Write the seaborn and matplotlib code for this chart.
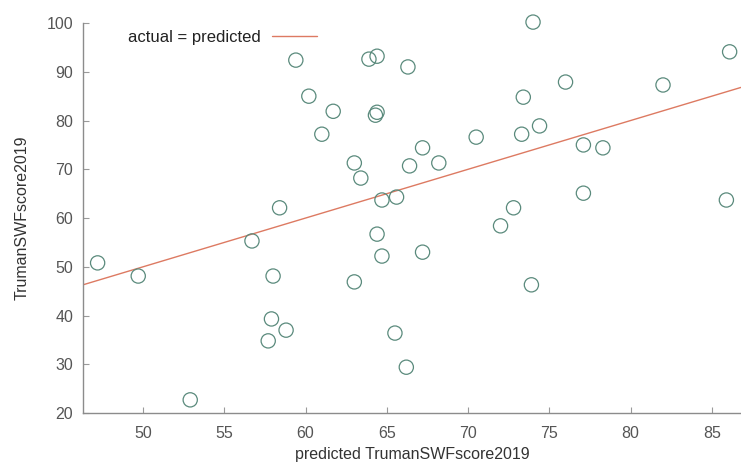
import pandas as pd
import seaborn as sns
import matplotlib.pyplot as plt

# --- Data ---
predicted = [47.2, 49.7, 52.9, 56.7, 58.4, 58.0, 57.9, 57.7, 58.8, 59.4,
             60.2, 61.7, 61.0, 63.0, 63.0, 63.4, 63.9, 64.4, 64.3, 64.4,
             64.4, 64.7, 64.7, 65.6, 66.3, 66.4, 65.5, 66.2, 67.2, 68.2,
             67.2, 70.5, 72.0, 72.8, 73.3, 73.4, 74.0, 74.4, 73.9, 76.0,
             77.1, 77.1, 78.3, 82.0, 85.9, 86.1]
actual = [50.8, 48.1, 22.7, 55.3, 62.1, 48.1, 39.3, 34.8, 37.0, 92.4,
          85.0, 81.9, 77.2, 46.9, 71.3, 68.2, 92.6, 93.2, 81.1, 81.7,
          56.7, 52.2, 63.7, 64.3, 91.0, 70.7, 36.4, 29.4, 74.4, 71.3,
          53.0, 76.6, 58.4, 62.1, 77.2, 84.8, 100.2, 78.9, 46.3, 87.9,
          75.0, 65.1, 74.4, 87.3, 63.7, 94.1]
xticks = [50, 55, 60, 65, 70, 75, 80, 85]
yticks = [20, 30, 40, 50, 60, 70, 80, 90, 100]

df = pd.DataFrame({'predicted': predicted, 'actual': actual})

# --- Style ---
sns.set_style('white')
plt.rcParams['font.family'] = ['Liberation Sans', 'DejaVu Sans']

fig = plt.figure(figsize=(7.41, 4.67), dpi=100)
ax = fig.add_axes([0.112, 0.1156, 0.888, 0.835])

line_col = '#dd7a62'
pt_col = '#5a8a7c'

ax.axline((50, 50), slope=1, color=line_col, lw=1.0, label='actual = predicted')
sns.scatterplot(data=df, x='predicted', y='actual', ax=ax,
                marker='o', s=105, facecolor='none', edgecolor=pt_col,
                linewidth=0.9, clip_on=False, zorder=3)

ax.set_xlim(46.3, 86.8)
ax.set_ylim(20, 100)
ax.set_xticks(xticks)
ax.set_yticks(yticks)

for side in ['top', 'right']:
    ax.spines[side].set_visible(False)
for side in ['left', 'bottom']:
    ax.spines[side].set_color('#8c8c8c')
    ax.spines[side].set_linewidth(1.0)

ax.tick_params(bottom=True, left=True, direction='in', length=4, width=0.8,
               color='#9a9a9a', labelsize=11.5, labelcolor='#555555')
ax.tick_params(axis='x', pad=9)
ax.tick_params(axis='y', pad=7)

ax.set_xlabel('predicted TrumanSWFscore2019', fontsize=11.5, color='#333333', labelpad=5)
ax.set_ylabel('TrumanSWFscore2019', fontsize=11.5, color='#333333', labelpad=12)

ax.legend(loc='upper left', bbox_to_anchor=(0.045, 1.02), frameon=False,
          markerfirst=False, handlelength=2.7, handletextpad=0.7, fontsize=12,
          labelcolor='#222222')

plt.savefig('out.png', dpi=100)
